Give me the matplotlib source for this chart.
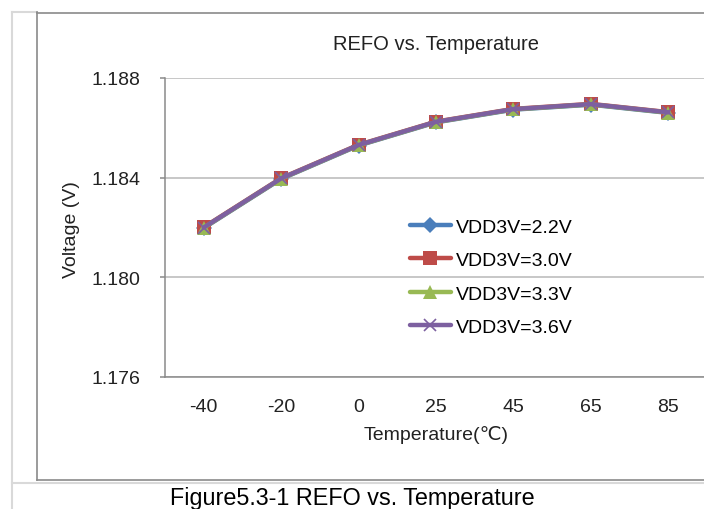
import matplotlib
matplotlib.use("Agg")
import matplotlib.pyplot as plt
from matplotlib.lines import Line2D

plt.rcParams['font.family'] = ['Liberation Sans', 'DejaVu Sans']

# data
temps = ['-40', '-20', '0', '25', '45', '65', '85']
vdd_22 = [1.18198, 1.18395, 1.18529, 1.18622, 1.18673, 1.18693, 1.18660]
vdd_30 = [1.18201, 1.18398, 1.18532, 1.18625, 1.18676, 1.18696, 1.18663]
vdd_33 = [1.18199, 1.18396, 1.18530, 1.18623, 1.18674, 1.18694, 1.18661]
vdd_36 = [1.18200, 1.18397, 1.18531, 1.18624, 1.18675, 1.18695, 1.18662]
labels = ['VDD3V=2.2V', 'VDD3V=3.0V', 'VDD3V=3.3V', 'VDD3V=3.6V']
y_ticks = [1.176, 1.180, 1.184, 1.188]

W, H = 704, 510
fig = plt.figure(figsize=(W / 100, H / 100), dpi=100)


def fx(px):
    return px / W


def fy(py):
    return 1 - py / H


# frame lines around the chart (like the document table cell + chart area)
light = '#d9d9d9'
dark = '#8a8a8a'
fig.add_artist(Line2D([fx(12), fx(12)], [fy(13), fy(510)], color=light, lw=1.5))
fig.add_artist(Line2D([fx(12), fx(37)], [fy(13), fy(13)], color=light, lw=1.5))
fig.add_artist(Line2D([fx(12), 1], [fy(483.5), fy(483.5)], color=light, lw=1.5))
fig.add_artist(Line2D([fx(37), fx(37)], [fy(13), fy(481)], color=dark, lw=1.2))
fig.add_artist(Line2D([fx(37), 1], [fy(13.5), fy(13.5)], color=dark, lw=1.2))
fig.add_artist(Line2D([fx(37), 1], [fy(481), fy(481)], color=dark, lw=1.2))

ax = fig.add_axes([fx(165), fy(378), fx(707) - fx(165), fy(79) - fy(378)])
x = list(range(len(temps)))

series = [vdd_22, vdd_30, vdd_33, vdd_36]
colors = ['#4A7EBB', '#BE4B48', '#98B954', '#7D60A0']
markers = ['D', 's', '^', 'x']
msizes = [8, 9.5, 9.5, 9]
for vals, lab, c, m, ms in zip(series, labels, colors, markers, msizes):
    ax.plot(x, vals, color=c, lw=3.2, marker=m, markersize=ms,
            markeredgewidth=1.2 if m == 'x' else 0, label=lab,
            solid_capstyle='round')

ax.set_xlim(-0.5, len(temps) - 0.5)
ax.set_ylim(1.176, 1.188)
ax.set_xticks(x)
ax.set_xticklabels(temps)
ax.set_yticks(y_ticks)
ax.set_yticklabels(['%.3f' % t for t in y_ticks])
ax.grid(axis='y', color='#b8b8b8', lw=1.1)
ax.set_axisbelow(True)
for s in ['top', 'right']:
    ax.spines[s].set_visible(False)
for s in ['left', 'bottom']:
    ax.spines[s].set_color('#8a8a8a')
    ax.spines[s].set_linewidth(1.1)
ax.tick_params(axis='y', length=3.6, width=1.1, color='#8a8a8a', pad=14,
               labelsize=14, labelcolor='#222222')
ax.tick_params(axis='x', length=0, pad=15, labelsize=14, labelcolor='#222222')

fig.text(fx(436), fy(45), 'REFO vs. Temperature', ha='center', va='center',
         fontsize=14.5, color='#222222')
fig.text(fx(436), fy(435), 'Temperature(\u2103)', ha='center', va='center',
         fontsize=14, color='#222222')
fig.text(fx(72), fy(230), 'Voltage (V)', ha='center', va='center',
         rotation=90, fontsize=14, color='#222222')
fig.text(fx(352), fy(505), 'Figure5.3-1 REFO vs. Temperature', ha='center',
         va='baseline', fontsize=16.8, color='black')

ax.legend(loc='upper left', bbox_to_anchor=(fx(410), fy(219)),
          bbox_transform=fig.transFigure, frameon=False, fontsize=14,
          handlelength=2.1, handletextpad=0.25, labelspacing=0.82,
          borderpad=0, borderaxespad=0)

fig.savefig('out.png', dpi=100)
